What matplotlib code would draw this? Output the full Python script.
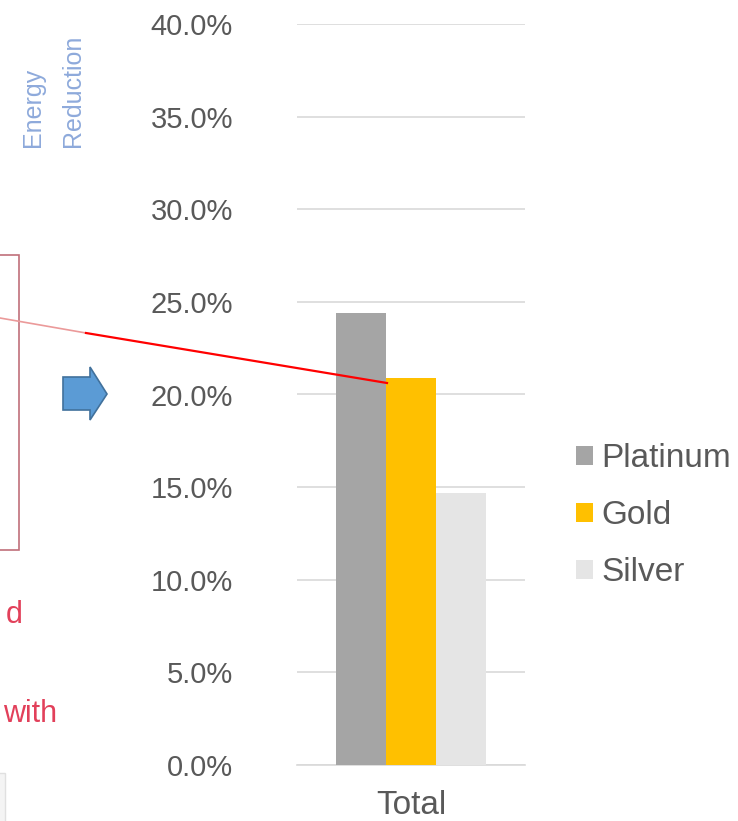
import matplotlib
matplotlib.use('Agg')
import matplotlib.pyplot as plt
from matplotlib.patches import Rectangle, Polygon
from matplotlib.lines import Line2D
from matplotlib.ticker import PercentFormatter

# data
categories = ['Total']
series = ['Platinum', 'Gold', 'Silver']
values = [24.4, 20.9, 14.7]
colors = ['#a5a5a5', '#ffc000', '#e5e5e5']
yticks = [0, 5, 10, 15, 20, 25, 30, 35, 40]

plt.rcParams['font.family'] = ['Liberation Sans', 'DejaVu Sans']

W, H = 738, 821
fig = plt.figure(figsize=(W / 100, H / 100), dpi=100)


def px(x, y):
    return (x / W, 1 - y / H)


# axes in pixel positions of the screenshot
ax = fig.add_axes([297 / W, 1 - 765 / H, 228 / W, 741 / H])
bw = 1 / 3
for i, (name, v, c) in enumerate(zip(series, values, colors)):
    ax.bar(0 + (i - 1) * bw, v, width=bw, color=c, label=name, zorder=3)

ax.set_ylim(0, 40)
ax.set_xlim(-0.765, 0.765)
ax.set_yticks(yticks)
ax.yaxis.set_major_formatter(PercentFormatter(decimals=1))
ax.set_xticks([0])
ax.set_xticklabels(categories)
ax.tick_params(axis='y', length=0, pad=46, labelsize=21, labelcolor='#595959')
ax.tick_params(axis='x', length=0, pad=18, labelsize=24, labelcolor='#595959')
ax.grid(axis='y', color='#d9d9d9', lw=1.2, zorder=0)
for s in ['top', 'right', 'left']:
    ax.spines[s].set_visible(False)
ax.spines['bottom'].set_color('#d9d9d9')
ax.spines['bottom'].set_linewidth(1.2)

# axis title
fig.text(*px(40, 147), 'Energy', rotation=90, rotation_mode='anchor',
         ha='left', va='baseline', fontsize=18, color='#8eaadb', fontweight='light')
fig.text(*px(80, 147), 'Reduction', rotation=90, rotation_mode='anchor',
         ha='left', va='baseline', fontsize=18, color='#8eaadb', fontweight='light')

# legend
fig.legend(loc='upper left', bbox_to_anchor=px(576, 443), frameon=False,
           fontsize=24, handlelength=0.5, handleheight=0.5, handletextpad=0.25,
           labelspacing=0.78, borderpad=0, borderaxespad=0, labelcolor='#595959')

# annotation shapes around the chart
fig.add_artist(Rectangle(px(-20, 550), 39 / W, 295 / H, transform=fig.transFigure,
                         fill=False, edgecolor='#c0707a', lw=1.2))
fig.add_artist(Line2D([px(0, 318)[0], px(86, 333)[0]], [px(0, 318)[1], px(86, 333)[1]],
                      transform=fig.transFigure, color='#eb9a9a', lw=1.2))
fig.add_artist(Line2D([px(86, 333)[0], px(387, 383)[0]], [px(86, 333)[1], px(387, 383)[1]],
                      transform=fig.transFigure, color='#ff0000', lw=1.6))
arrow = [px(63, 377), px(90, 377), px(90, 367), px(107, 394),
         px(90, 420), px(90, 410), px(63, 410)]
fig.add_artist(Polygon(arrow, closed=True, transform=fig.transFigure,
                       facecolor='#5b9bd5', edgecolor='#41719c', lw=1.2))
fig.add_artist(Rectangle(px(-10, 830), 15 / W, 57 / H, transform=fig.transFigure,
                         facecolor='#f4f4f4', edgecolor='#e0e0e0', lw=1))

fig.text(*px(23, 623), 'd', ha='right', va='baseline', fontsize=22, color='#e2405a')
fig.text(*px(57, 722), 'with', ha='right', va='baseline', fontsize=22, color='#e2405a')

fig.savefig('out.png', dpi=100)
